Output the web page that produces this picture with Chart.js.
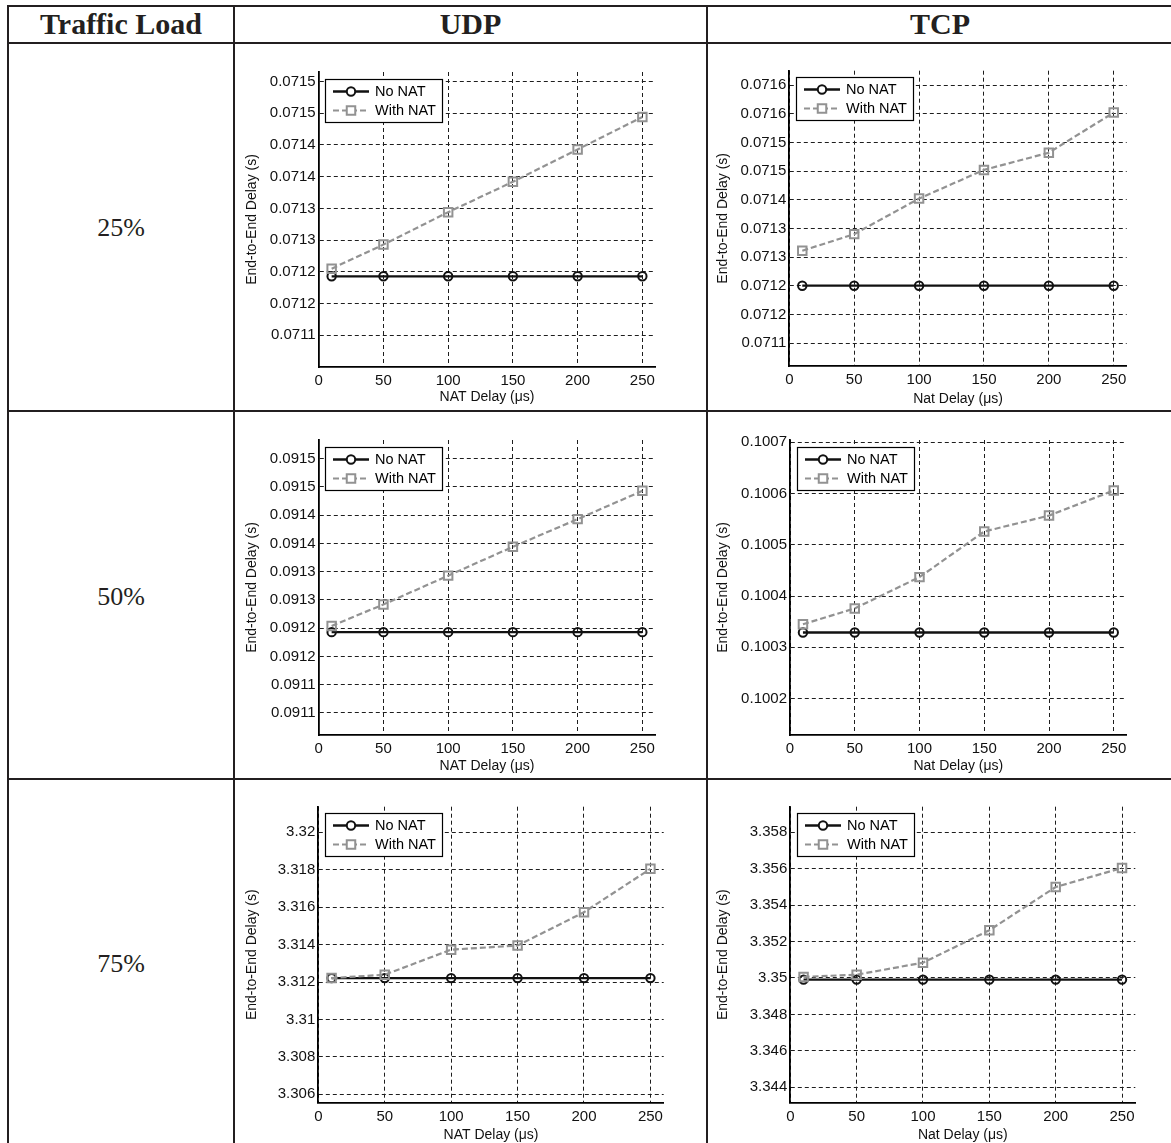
<!DOCTYPE html>
<html>
<head>
<meta charset="utf-8">
<script src="https://cdn.jsdelivr.net/npm/chart.js@4.4.1/dist/chart.umd.min.js"></script>
<style>
  html, body { margin: 0; padding: 0; background: #fff; }
  body { position: relative; width: 1171px; height: 1143px; overflow: hidden; }
  .rule { position: absolute; background: #231f20; }
  .txt { position: absolute; display: flex; align-items: center; justify-content: center; color: #231f20; white-space: nowrap; }
  .head { font: bold 30px 'Liberation Serif', 'Times New Roman', serif; }
  .load { font: 26px 'Liberation Serif', 'Times New Roman', serif; }
  canvas { position: absolute; }
</style>
</head>
<body>
<script>
// ---- table text ----
const headerTitle = 'Traffic Load';
const protocols = ['UDP', 'TCP'];
const trafficLoads = ['25%', '50%', '75%'];
const xTitles = ['NAT Delay (μs)', 'Nat Delay (μs)'];
const yTitle = 'End-to-End Delay (s)';
const seriesNames = ['No NAT', 'With NAT'];

// ---- shared x values ----
const natDelay = [10, 50, 100, 150, 200, 250];
const xTickValues = [0, 50, 100, 150, 200, 250];
const xRange = [0, 260];

// ---- UDP, 25% load ----
const udp25NoNat = [0.071193, 0.071193, 0.071193, 0.071193, 0.071193, 0.071193];
const udp25WithNat = [0.071205, 0.071243, 0.071294, 0.071342, 0.071393, 0.071444];
const udp25Ticks = [0.0711, 0.07115, 0.0712, 0.07125, 0.0713, 0.07135, 0.0714, 0.07145, 0.0715];
const udp25TickLabels = ['0.0711', '0.0712', '0.0712', '0.0713', '0.0713', '0.0714', '0.0714', '0.0715', '0.0715'];
const udp25Range = [0.07105, 0.071515];

// ---- TCP, 25% load ----
const tcp25NoNat = [0.07125, 0.07125, 0.07125, 0.07125, 0.07125, 0.07125];
const tcp25WithNat = [0.071311, 0.07134, 0.071402, 0.071452, 0.071482, 0.071552];
const tcp25Ticks = [0.07115, 0.0712, 0.07125, 0.0713, 0.07135, 0.0714, 0.07145, 0.0715, 0.07155, 0.0716];
const tcp25TickLabels = ['0.0711', '0.0712', '0.0712', '0.0713', '0.0713', '0.0714', '0.0715', '0.0715', '0.0716', '0.0716'];
const tcp25Range = [0.07111, 0.071625];

// ---- UDP, 50% load ----
const udp50NoNat = [0.091193, 0.091193, 0.091193, 0.091193, 0.091193, 0.091193];
const udp50WithNat = [0.091204, 0.091242, 0.091293, 0.091344, 0.091393, 0.091443];
const udp50Ticks = [0.09105, 0.0911, 0.09115, 0.0912, 0.09125, 0.0913, 0.09135, 0.0914, 0.09145, 0.0915];
const udp50TickLabels = ['0.0911', '0.0911', '0.0912', '0.0912', '0.0913', '0.0913', '0.0914', '0.0914', '0.0915', '0.0915'];
const udp50Range = [0.091011, 0.091533];

// ---- TCP, 50% load ----
const tcp50NoNat = [0.100329, 0.100329, 0.100329, 0.100329, 0.100329, 0.100329];
const tcp50WithNat = [0.100345, 0.100376, 0.100437, 0.100526, 0.100557, 0.100606];
const tcp50Ticks = [0.1002, 0.1003, 0.1004, 0.1005, 0.1006, 0.1007];
const tcp50TickLabels = ['0.1002', '0.1003', '0.1004', '0.1005', '0.1006', '0.1007'];
const tcp50Range = [0.100129, 0.1007045];

// ---- UDP, 75% load ----
const udp75NoNat = [3.31221, 3.31221, 3.31221, 3.31221, 3.31221, 3.31221];
const udp75WithNat = [3.31221, 3.31239, 3.31373, 3.31395, 3.31573, 3.31805];
const udp75Ticks = [3.306, 3.308, 3.31, 3.312, 3.314, 3.316, 3.318, 3.32];
const udp75TickLabels = ['3.306', '3.308', '3.31', '3.312', '3.314', '3.316', '3.318', '3.32'];
const udp75Range = [3.30555, 3.32137];

// ---- TCP, 75% load ----
const tcp75NoNat = [3.34991, 3.34991, 3.34991, 3.34991, 3.34991, 3.34991];
const tcp75WithNat = [3.35006, 3.35018, 3.35084, 3.35262, 3.35499, 3.35604];
const tcp75Ticks = [3.344, 3.346, 3.348, 3.35, 3.352, 3.354, 3.356, 3.358];
const tcp75TickLabels = ['3.344', '3.346', '3.348', '3.35', '3.352', '3.354', '3.356', '3.358'];
const tcp75Range = [3.343155, 3.3594];

// ---- styling ----
const GRID = '#1e1e1e';
const GRAY = '#929292';
const SANS = "'Liberation Sans', Arial, Helvetica, sans-serif";
const TICK_PX = 15;
const TITLE_PX = 14;

// ---- table rules ----
function rule(l, t, w, h) {
  const d = document.createElement('div');
  d.className = 'rule';
  Object.assign(d.style, { left: l + 'px', top: t + 'px', width: w + 'px', height: h + 'px' });
  document.body.appendChild(d);
}
rule(7, 5, 1170, 2);      // top
rule(7, 42, 1170, 2);     // under header
rule(7, 410, 1170, 2);    // row 1 / row 2
rule(7, 778, 1170, 2);    // row 2 / row 3
rule(7, 5, 2, 1140);      // left
rule(233, 5, 2, 1140);    // col 1 / col 2
rule(706, 5, 2, 1140);    // col 2 / col 3

function label(text, cls, cx, cy) {
  const d = document.createElement('div');
  d.className = 'txt ' + cls;
  d.textContent = text;
  Object.assign(d.style, { left: (cx - 150) + 'px', top: (cy - 25) + 'px', width: '300px', height: '50px' });
  document.body.appendChild(d);
}
label(headerTitle, 'head', 121, 24);
label(protocols[0], 'head', 470.5, 24);
label(protocols[1], 'head', 940, 24);
const rowCenters = [228, 597, 964];
trafficLoads.forEach((t, i) => label(t, 'load', 121, rowCenters[i]));

// ---- legend drawn as a framed box inside the plot ----
const boxLegend = {
  id: 'boxLegend',
  afterDatasetsDraw(chart, args, o) {
    const { ctx, chartArea } = chart;
    const x0 = Math.round(chartArea.left + o.dx), y0 = Math.round(chartArea.top + o.dy);
    ctx.save();
    ctx.fillStyle = '#fff';
    ctx.fillRect(x0, y0, o.w, o.h);
    ctx.strokeStyle = '#000';
    ctx.lineWidth = 1.2;
    ctx.strokeRect(x0 + 0.5, y0 + 0.5, o.w - 1, o.h - 1);
    chart.data.datasets.forEach((ds, i) => {
      const y = y0 + o.rows[i];
      ctx.strokeStyle = ds.borderColor;
      ctx.lineWidth = ds.borderWidth;
      ctx.setLineDash(ds.borderDash || []);
      ctx.beginPath();
      ctx.moveTo(x0 + 8, y);
      ctx.lineTo(x0 + 44, y);
      ctx.stroke();
      ctx.setLineDash([]);
      ctx.lineWidth = ds.pointBorderWidth;
      ctx.fillStyle = '#fff';
      ctx.beginPath();
      const mx = x0 + 26;
      if (ds.pointStyle === 'rect') {
        const h = Math.SQRT1_2 * ds.pointRadius;
        ctx.rect(mx - h, y - h, 2 * h, 2 * h);
      } else {
        ctx.arc(mx, y, ds.pointRadius, 0, Math.PI * 2);
      }
      ctx.fill();
      ctx.stroke();
      ctx.fillStyle = '#000';
      ctx.font = '14.5px ' + SANS;
      ctx.textBaseline = 'middle';
      ctx.textAlign = 'left';
      ctx.fillText(ds.label, x0 + 50, y + 0.5);
    });
    ctx.restore();
  }
};

// ---- panel layout: canvas box [l, t, w, h], plot area [l, t, r, b], title centres ----
const panels = [
  { box: [236, 45, 468, 364], plot: [318.7, 72, 655.3, 367], yTitleX: 252.3, xTitleY: 397,
    xTitle: xTitles[0], noNat: udp25NoNat, withNat: udp25WithNat, ticks: udp25Ticks, tickLabels: udp25TickLabels, range: udp25Range },
  { box: [708, 45, 463, 364], plot: [789.3, 70.7, 1126.7, 366], yTitleX: 723, xTitleY: 399,
    xTitle: xTitles[1], noNat: tcp25NoNat, withNat: tcp25WithNat, ticks: tcp25Ticks, tickLabels: tcp25TickLabels, range: tcp25Range },
  { box: [236, 413, 468, 364], plot: [318.7, 440, 655.3, 735], yTitleX: 252.3, xTitleY: 766.5,
    xTitle: xTitles[0], noNat: udp50NoNat, withNat: udp50WithNat, ticks: udp50Ticks, tickLabels: udp50TickLabels, range: udp50Range },
  { box: [708, 413, 463, 364], plot: [790, 440, 1126.7, 735], yTitleX: 723, xTitleY: 766.5,
    xTitle: xTitles[1], noNat: tcp50NoNat, withNat: tcp50WithNat, ticks: tcp50Ticks, tickLabels: tcp50TickLabels, range: tcp50Range },
  { box: [236, 781, 468, 372], plot: [318.3, 806.7, 663.7, 1102.7], yTitleX: 251.7, xTitleY: 1135,
    xTitle: xTitles[0], noNat: udp75NoNat, withNat: udp75WithNat, ticks: udp75Ticks, tickLabels: udp75TickLabels, range: udp75Range },
  { box: [708, 781, 463, 372], plot: [790.3, 806.7, 1135.3, 1102.7], yTitleX: 723, xTitleY: 1135,
    xTitle: xTitles[1], noNat: tcp75NoNat, withNat: tcp75WithNat, ticks: tcp75Ticks, tickLabels: tcp75TickLabels, range: tcp75Range }
];

function makePanel(p) {
  const [bl, bt, bw, bh] = p.box;
  const [pl, pt, pr, pb] = p.plot;
  const cv = document.createElement('canvas');
  cv.width = bw; cv.height = bh;
  Object.assign(cv.style, { left: bl + 'px', top: bt + 'px', width: bw + 'px', height: bh + 'px' });
  document.body.appendChild(cv);

  const yAxisW = pl - bl;
  const xAxisH = bt + bh - pb;
  const lh = TITLE_PX * 1.2;
  const yTitlePad = p.yTitleX - bl - lh / 2;
  const xTitlePad = bt + bh - p.xTitleY - lh / 2;

  const gridOpts = { color: GRID, lineWidth: 1, drawTicks: false };
  const borderOpts = { display: true, color: '#000', width: 1.8, dash: [4, 3] };

  new Chart(cv, {
    type: 'line',
    data: {
      datasets: [
        {
          label: seriesNames[0],
          data: natDelay.map((x, i) => ({ x, y: p.noNat[i] })),
          borderColor: '#111', borderWidth: 2.3,
          pointStyle: 'circle', pointRadius: 4.2, pointBorderWidth: 2,
          pointBorderColor: '#111', pointBackgroundColor: 'rgba(255,255,255,0)',
          tension: 0, order: 1
        },
        {
          label: seriesNames[1],
          data: natDelay.map((x, i) => ({ x, y: p.withNat[i] })),
          borderColor: GRAY, borderWidth: 2.2, borderDash: [6, 3],
          pointStyle: 'rect', pointRadius: 6, pointBorderWidth: 2,
          pointBorderColor: GRAY, pointBackgroundColor: 'rgba(255,255,255,0)',
          tension: 0, order: 0
        }
      ]
    },
    options: {
      responsive: false,
      animation: false,
      devicePixelRatio: 1,
      events: [],
      layout: { padding: { left: 0, top: pt - bt, right: bl + bw - pr, bottom: 0 } },
      plugins: {
        legend: { display: false },
        tooltip: { enabled: false },
        boxLegend: { dx: 6.5, dy: 6.5, w: 118, h: 44, rows: [12.5, 31.5] }
      },
      scales: {
        x: {
          type: 'linear', min: xRange[0], max: xRange[1],
          afterBuildTicks: s => { s.ticks = xTickValues.map(v => ({ value: v })); },
          afterFit: s => { s.height = xAxisH; },
          ticks: { autoSkip: false, maxRotation: 0, padding: 5, color: '#111', font: { family: SANS, size: TICK_PX } },
          grid: gridOpts,
          border: borderOpts,
          title: { display: true, text: p.xTitle, color: '#111', font: { family: SANS, size: TITLE_PX }, padding: { top: 0, bottom: xTitlePad } }
        },
        y: {
          type: 'linear', min: p.range[0], max: p.range[1],
          afterBuildTicks: s => { s.ticks = p.ticks.map(v => ({ value: v })); },
          afterFit: s => { s.width = yAxisW; },
          ticks: { autoSkip: false, padding: 3, color: '#111', font: { family: SANS, size: TICK_PX },
                   callback: (v, i) => p.tickLabels[i] },
          grid: gridOpts,
          border: borderOpts,
          title: { display: true, text: yTitle, color: '#111', font: { family: SANS, size: TITLE_PX }, padding: { top: yTitlePad, bottom: 0 } }
        }
      }
    },
    plugins: [boxLegend]
  });
}
panels.forEach(makePanel);
</script>
</body>
</html>
